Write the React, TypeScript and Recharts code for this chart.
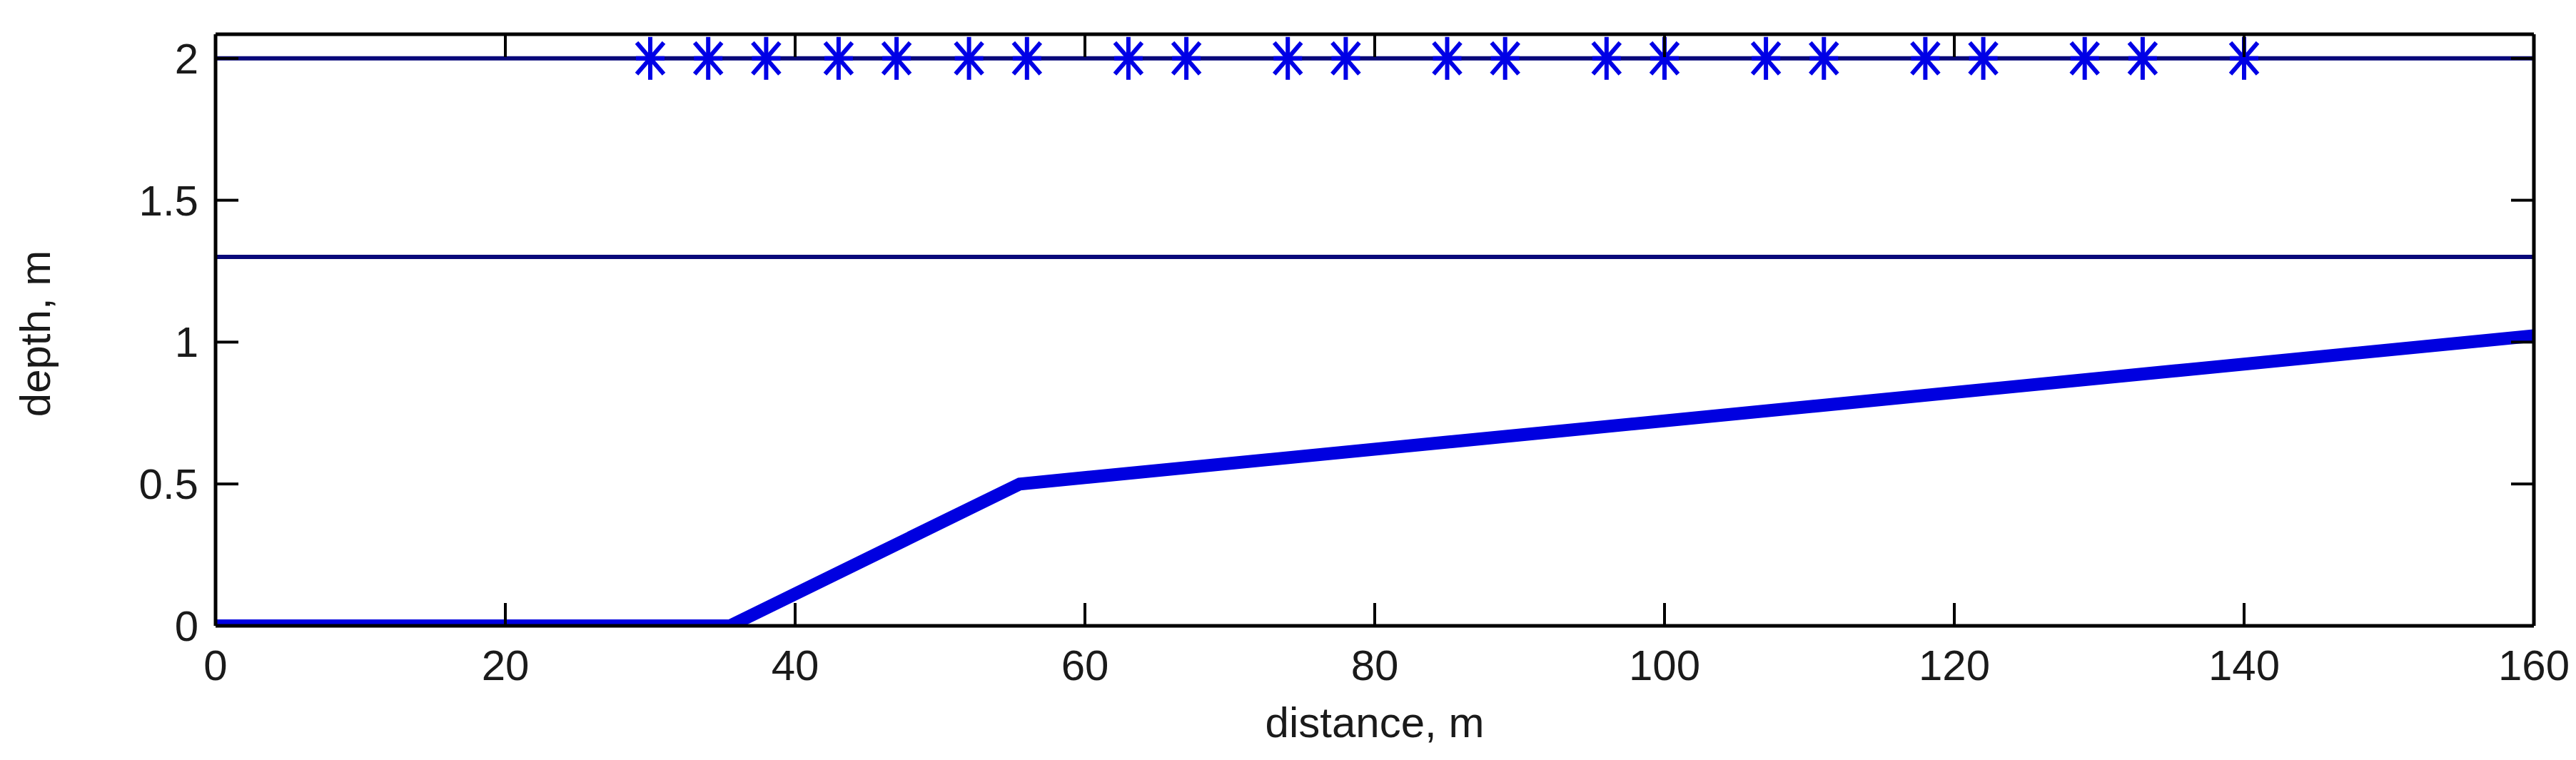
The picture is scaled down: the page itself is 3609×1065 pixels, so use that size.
import React from 'react';
import { ComposedChart, Line, Scatter, XAxis, YAxis, ReferenceLine, Label } from 'recharts';

// bed profile (distance, m -> depth, m)
const profileX = [0, 35.5, 55.5, 160];
const profileDepth = [0, 0, 0.5, 1.0225];

// gauge positions along the surface
const markerX = [30, 34, 38, 43, 47, 52, 56, 63, 67, 74, 78, 85, 89, 96, 100, 107, 111, 118, 122, 129, 133, 140];
const markerDepth = 2;

// horizontal levels
const levels = [2, 1.3];

const xTicks = [0, 20, 40, 60, 80, 100, 120, 140, 160];
const yTicks = [0, 0.5, 1, 1.5, 2];

const profile = profileX.map((x, i) => ({ x, y: profileDepth[i] }));
const markers = markerX.map((x) => ({ x, y: markerDepth }));

const FONT = '"Liberation Sans", Arial, sans-serif';
const FONT_SIZE = 60;
const TEXT = '#1a1a1a';
const TICK_LEN = 32;
const TICK_W = 4;
const PLOT_TOP = 48;

const BottomTick = (props: any) => {
  const { x, y, payload } = props;
  return (
    <g>
      <line x1={x} y1={y} x2={x} y2={y - TICK_LEN} stroke="#000" strokeWidth={TICK_W} />
      <line x1={x} y1={PLOT_TOP} x2={x} y2={PLOT_TOP + TICK_LEN} stroke="#000" strokeWidth={TICK_W} />
      <text x={x} y={y + 76} textAnchor="middle" fontSize={FONT_SIZE} fill={TEXT} fontFamily={FONT}>
        {payload.value}
      </text>
    </g>
  );
};

const LeftTick = (props: any) => {
  const { x, y, payload } = props;
  return (
    <g>
      <line x1={x} y1={y} x2={x + TICK_LEN} y2={y} stroke="#000" strokeWidth={TICK_W} />
      <text x={x - 24} y={y + 21} textAnchor="end" fontSize={FONT_SIZE} fill={TEXT} fontFamily={FONT}>
        {payload.value}
      </text>
    </g>
  );
};

const RightTick = (props: any) => {
  const { x, y } = props;
  return <line x1={x} y1={y} x2={x - TICK_LEN} y2={y} stroke="#000" strokeWidth={TICK_W} />;
};

const Asterisk = (props: any) => {
  const { cx, cy } = props;
  const c = '#0000e6';
  return (
    <g stroke={c} strokeWidth={6}>
      <line x1={cx} y1={cy - 30} x2={cx} y2={cy + 30} />
      <line x1={cx - 20} y1={cy} x2={cx + 20} y2={cy} />
      <line x1={cx - 19} y1={cy - 22} x2={cx + 19} y2={cy + 22} />
      <line x1={cx - 19} y1={cy + 22} x2={cx + 19} y2={cy - 22} />
    </g>
  );
};

const axisLine = { stroke: '#000', strokeWidth: 5 };

export default function App() {
  return (
    <div style={{ margin: '-8px 0 0 -8px', width: 3609 }}>
      <ComposedChart
        width={3609}
        height={1050}
        margin={{ top: 47, right: 58, left: 0, bottom: 0 }}
        style={{ fontFamily: FONT }}
      >
        <XAxis
          xAxisId={0}
          dataKey="x"
          type="number"
          domain={[0, 160]}
          ticks={xTicks}
          height={173}
          axisLine={axisLine}
          tickLine={false}
          tickSize={0}
          tickMargin={0}
          tick={<BottomTick />}
          interval={0}
        >
          <Label
            content={(p: any) => {
              const vb = p.viewBox;
              return (
                <text x={vb.x + vb.width / 2} y={vb.y + 156} textAnchor="middle" fontSize={FONT_SIZE} fill={TEXT} fontFamily={FONT}>
                  distance, m
                </text>
              );
            }}
          />
        </XAxis>
        <XAxis
          xAxisId="top"
          orientation="top"
          dataKey="x"
          type="number"
          domain={[0, 160]}
          ticks={xTicks}
          height={1}
          axisLine={axisLine}
          tickLine={false}
          tick={false}
        />
        <YAxis
          yAxisId={0}
          dataKey="y"
          type="number"
          domain={[0, 2.085]}
          ticks={yTicks}
          width={302}
          axisLine={axisLine}
          tickLine={false}
          tickSize={0}
          tickMargin={0}
          tick={<LeftTick />}
          interval={0}
          allowDataOverflow
        >
          <Label
            content={(p: any) => {
              const vb = p.viewBox;
              const cy = vb.y + vb.height / 2 + 5;
              return (
                <text
                  x={70}
                  y={cy}
                  transform={`rotate(-90, 70, ${cy})`}
                  textAnchor="middle"
                  fontSize={FONT_SIZE}
                  fill={TEXT}
                  fontFamily={FONT}
                >
                  depth, m
                </text>
              );
            }}
          />
        </YAxis>
        <YAxis
          yAxisId="right"
          orientation="right"
          dataKey="y"
          type="number"
          domain={[0, 2.085]}
          ticks={yTicks}
          width={1}
          axisLine={axisLine}
          tickLine={false}
          tickSize={0}
          tickMargin={0}
          tick={<RightTick />}
          interval={0}
          allowDataOverflow
        />
        {levels.map((v) => (
          <ReferenceLine key={v} y={v} xAxisId={0} yAxisId={0} stroke="#08087a" strokeWidth={6} />
        ))}
        <Line
          data={profile}
          dataKey="y"
          xAxisId={0}
          yAxisId={0}
          type="linear"
          stroke="#0000e0"
          strokeWidth={18}
          dot={false}
          activeDot={false}
          isAnimationActive={false}
        />
        <Scatter
          data={markers}
          dataKey="y"
          xAxisId={0}
          yAxisId={0}
          shape={(p: any) => <Asterisk {...p} />}
          isAnimationActive={false}
        />
      </ComposedChart>
    </div>
  );
}
